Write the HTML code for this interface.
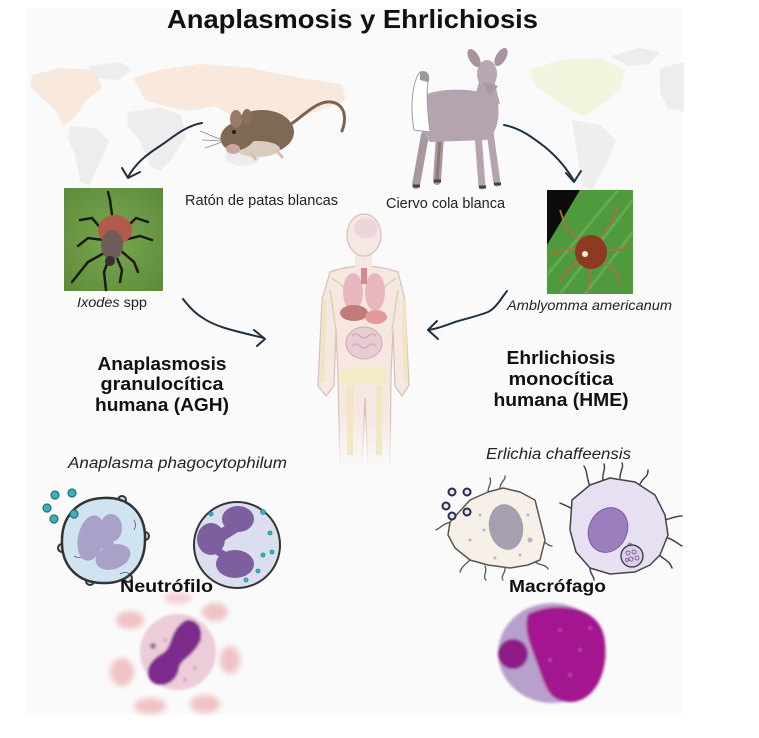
<!DOCTYPE html>
<html><head><meta charset="utf-8"><style>
html,body{margin:0;padding:0;background:#fff;}
svg{display:block;}
text{font-family:"Liberation Sans",Arial,sans-serif;}
</style></head><body>
<svg width="759" height="738" viewBox="0 0 759 738" xmlns="http://www.w3.org/2000/svg">
<defs>
<filter id="b1" x="-20%" y="-20%" width="140%" height="140%"><feGaussianBlur stdDeviation="1.2"/></filter>
<filter id="b3" x="-30%" y="-30%" width="160%" height="160%"><feGaussianBlur stdDeviation="3"/></filter>
<linearGradient id="bodyfade" x1="0" y1="0" x2="0" y2="1" gradientUnits="userSpaceOnUse" gradientTransform="translate(0,210) scale(1,260)">
<stop offset="0" stop-color="#f6e7e1" stop-opacity="1"/>
<stop offset="0.78" stop-color="#f6e7e1" stop-opacity="1"/>
<stop offset="1" stop-color="#f6e7e1" stop-opacity="0"/>
</linearGradient>
<linearGradient id="strokefade" x1="0" y1="0" x2="0" y2="1" gradientUnits="userSpaceOnUse" gradientTransform="translate(0,210) scale(1,260)">
<stop offset="0" stop-color="#d8bfb7" stop-opacity="1"/>
<stop offset="0.78" stop-color="#d8bfb7" stop-opacity="1"/>
<stop offset="1" stop-color="#d8bfb7" stop-opacity="0"/>
</linearGradient>
<radialGradient id="leaf1" cx="0.5" cy="0.5" r="0.7">
<stop offset="0" stop-color="#7aa84e"/><stop offset="1" stop-color="#5c8a3a"/>
</radialGradient>
</defs>

<!-- background panel -->
<rect x="26" y="8" width="655" height="707" fill="#fafafa"/>

<!-- left world map -->
<g opacity="0.6">
<path d="M32,75 L60,68 L95,70 L102,88 L86,100 L76,116 L63,126 L55,110 L40,96 L30,86 Z" fill="#f9ddc9"/>
<path d="M88,66 L120,62 L132,70 L118,80 L98,78 Z" fill="#e6e6e6"/>
<path d="M70,126 L96,128 L109,141 L101,160 L89,186 L80,181 L75,156 L68,137 Z" fill="#e6e6e6"/>
<path d="M133,78 L160,70 L200,64 L250,68 L300,78 L342,84 L346,100 L322,110 L300,116 L280,122 L260,126 L240,120 L215,106 L190,111 L165,106 L145,100 Z" fill="#f9ddc9"/>
<path d="M128,112 L160,107 L181,115 L186,136 L171,160 L160,171 L150,166 L140,141 L127,125 Z" fill="#e6e6e6"/>
<ellipse cx="243" cy="156" rx="18" ry="10" fill="#e6e6e6"/>
</g>

<!-- right world map -->
<g opacity="0.6">
<path d="M530,70 L560,60 L600,58 L625,70 L620,90 L600,106 L585,116 L570,110 L550,96 L535,86 Z" fill="#ebf3cc"/>
<path d="M610,56 L640,48 L660,52 L650,64 L628,66 Z" fill="#e6e6e6"/>
<path d="M572,120 L600,125 L616,140 L606,165 L592,190 L582,186 L577,152 Z" fill="#e6e6e6"/>
<path d="M660,68 L684,62 L684,112 L668,108 L660,92 Z" fill="#e6e6e6"/>
</g>

<!-- title -->
<text x="167" y="28" font-size="26" font-weight="bold" fill="#111" textLength="371" lengthAdjust="spacingAndGlyphs">Anaplasmosis y Ehrlichiosis</text>

<!-- mouse -->
<g>
<path d="M285,128 C302,118 316,100 331,102 C345,104 347,118 342,131" stroke="#7a6450" stroke-width="3" fill="none" stroke-linecap="round"/>
<ellipse cx="262" cy="132" rx="32" ry="22" fill="#7f6954"/>
<ellipse cx="258" cy="149" rx="22" ry="8" fill="#d9cdbd"/>
<ellipse cx="238" cy="136" rx="18" ry="14" transform="rotate(-20 238 136)" fill="#7f6954"/>
<ellipse cx="236" cy="119" rx="6" ry="9" fill="#9a7b6a"/>
<ellipse cx="247" cy="117" rx="5" ry="8" fill="#8a6e5e"/>
<circle cx="234" cy="132" r="2" fill="#222"/>
<ellipse cx="233" cy="149" rx="7" ry="5" fill="#c9a8a0"/>
<path d="M250,152 L256,160 M276,150 L283,158" stroke="#d8c0b8" stroke-width="3"/>
<path d="M222,140 L200,131 M222,141 L202,140 M222,142 L205,148" stroke="#888" stroke-width="0.8"/>
</g>

<!-- deer -->
<g>
<path d="M425,135 L416,185 M440,136 L437,181" stroke="#a8989f" stroke-width="8" stroke-linecap="round"/>
<path d="M440,138 L437,180" stroke="#8a7a70" stroke-width="3"/>
<path d="M478,134 L482,186 M490,132 L497,183" stroke="#b3a4b0" stroke-width="7" stroke-linecap="round"/>
<path d="M425,95 C440,88 470,88 488,94 L498,102 C500,120 496,135 486,140 L430,142 C420,132 417,110 425,95 Z" fill="#b3a4b0"/>
<path d="M474,100 L480,78 L494,80 L500,104 Z" fill="#b3a4b0"/>
<path d="M414,130 C410,108 412,82 420,72 C428,70 430,76 428,82 C426,96 428,115 430,132 Z" fill="#ffffff" stroke="#a09aa0" stroke-width="1"/>
<path d="M420,72 C428,70 430,76 428,82 L420,80 Z" fill="#9a9a9a"/>
<ellipse cx="487" cy="74" rx="10" ry="14" fill="#b8a8b4"/>
<path d="M482,82 L490,96 L498,86 Z" fill="#a8989f"/>
<ellipse cx="474" cy="58" rx="5" ry="10" transform="rotate(-30 474 58)" fill="#a8939f"/>
<ellipse cx="501" cy="57" rx="5" ry="10" transform="rotate(30 501 57)" fill="#a8939f"/>
<path d="M413,186 L420,186 M434,181 L441,181 M479,187 L486,187 M494,184 L501,184" stroke="#444" stroke-width="3"/>
</g>

<text x="185" y="205" font-size="14.5" fill="#222" textLength="153" lengthAdjust="spacingAndGlyphs">Ratón de patas blancas</text>
<text x="386" y="208" font-size="14.5" fill="#222" textLength="119" lengthAdjust="spacingAndGlyphs">Ciervo cola blanca</text>

<!-- arrows -->
<g stroke="#1f3040" stroke-width="2" fill="none" stroke-linecap="round" stroke-linejoin="round">
<path d="M202,123 C185,126 172,138 160,146 C146,155 136,163 128,177"/>
<path d="M122,168 L128,178 L140,172"/>
<path d="M504,125 C520,128 532,137 545,147 C557,157 566,167 574,181"/>
<path d="M566,173 L574,182 L581,171"/>
<path d="M183,299 C190,308 196,314 203,318 C214,326 230,330 264,338"/>
<path d="M254,330 L265,339 L257,346"/>
<path d="M507,291 C500,300 496,308 488,312 C478,316 468,318 455,322 C444,326 436,329 428,330"/>
<path d="M437,321 L428,330 L438,339"/>
</g>

<!-- Ixodes photo -->
<rect x="64" y="188" width="99" height="103" fill="url(#leaf1)"/>
<g stroke="#1a1a1a" stroke-width="2.5" fill="none" stroke-linecap="round">
<path d="M104,232 L92,218 L80,220"/>
<path d="M104,240 L88,238 L78,246"/>
<path d="M106,252 L88,262 L72,282"/>
<path d="M110,256 L104,272 L106,290"/>
<path d="M122,232 L136,218 L148,222"/>
<path d="M124,240 L140,236 L152,240"/>
<path d="M120,250 L134,262 L138,272"/>
<path d="M116,256 L122,270 L120,282"/>
<path d="M112,215 L110,200 L108,192"/>
</g>
<ellipse cx="115" cy="230" rx="17" ry="15" fill="#b35a4c"/>
<ellipse cx="112" cy="245" rx="11" ry="15" fill="#6e5c58"/>
<ellipse cx="110" cy="261" rx="5" ry="5" fill="#3a2e2c"/>
<text x="77" y="307" font-size="14" fill="#222" textLength="70" lengthAdjust="spacingAndGlyphs"><tspan font-style="italic">Ixodes</tspan> spp</text>

<!-- Amblyomma photo -->
<rect x="547" y="190" width="86" height="104" fill="#4f9a3c"/>
<path d="M547,190 L580,190 L547,245 Z" fill="#0c0c0c"/>
<path d="M560,294 L633,200 M585,294 L633,232 M547,275 L618,190" stroke="#6cb85a" stroke-width="3" opacity="0.6"/>
<g stroke="#b0703e" stroke-width="1.8" fill="none">
<path d="M580,240 L566,228 L560,210 M600,238 L612,222 L618,205 M604,250 L620,250 L628,244 M602,260 L616,272 L620,285 M580,260 L568,270 L560,282 M590,264 L590,282 L586,292 M578,248 L562,250 L550,256"/>
</g>
<ellipse cx="591" cy="252" rx="16" ry="17" fill="#8e3a22"/>
<circle cx="585" cy="254" r="3" fill="#f2efe0"/>
<text x="507" y="310" font-size="14" font-style="italic" fill="#222" textLength="165" lengthAdjust="spacingAndGlyphs">Amblyomma americanum</text>

<!-- human body -->
<g>
<path d="M330,272 Q363,260 398,272 L405,300 L409,385 L402,396 L395,386 L393,330 L391,375 L390,470 L368,470 L365,398 L362,470 L340,470 L338,375 L336,330 L334,386 L326,396 L318,386 L322,300 Z" fill="url(#bodyfade)" stroke="url(#strokefade)" stroke-width="1.2"/>
<rect x="355" y="250" width="17" height="20" fill="#f6e7e1"/>
<ellipse cx="364" cy="235" rx="17" ry="21" fill="#f6e7e1" stroke="#d8bfb7" stroke-width="1.2"/>
<ellipse cx="366" cy="228" rx="12" ry="10" fill="#ecd6da"/>
<path d="M340,372 Q364,362 388,372 L386,384 L342,384 Z" fill="#f3ebc6"/>
<path d="M350,386 L350,455 M379,386 L379,455" stroke="#f1e8c0" stroke-width="6" opacity="0.9"/>
<path d="M325,300 L322,382 M404,300 L406,382" stroke="#eee6c2" stroke-width="4"/>
<path d="M332,278 L348,290 M396,278 L380,290 M330,290 L336,330 M398,290 L392,330" stroke="#c8d6a2" stroke-width="1.2"/>
<ellipse cx="353" cy="292" rx="10" ry="19" fill="#e8b6be"/>
<ellipse cx="375" cy="292" rx="10" ry="19" fill="#e8b6be"/>
<rect x="361" y="268" width="6" height="16" fill="#d88890"/>
<ellipse cx="354" cy="313" rx="14" ry="8" fill="#c27a7a"/>
<ellipse cx="376" cy="317" rx="11" ry="7" fill="#e59a9a"/>
<ellipse cx="364" cy="343" rx="18" ry="16" fill="#e7ccd3" stroke="#cfa6ae" stroke-width="1"/>
<path d="M352,336 q4,-4 8,0 q4,4 8,0 q4,-4 8,0 M352,346 q4,-4 8,0 q4,4 8,0 q4,-4 8,0" stroke="#cfa0aa" stroke-width="1" fill="none"/>
</g>

<!-- left labels -->
<text x="162" y="370" font-size="18" font-weight="bold" fill="#111" text-anchor="middle" textLength="129" lengthAdjust="spacingAndGlyphs">Anaplasmosis</text>
<text x="162" y="390" font-size="18" font-weight="bold" fill="#111" text-anchor="middle" textLength="123" lengthAdjust="spacingAndGlyphs">granulocítica</text>
<text x="162" y="411" font-size="18" font-weight="bold" fill="#111" text-anchor="middle" textLength="134" lengthAdjust="spacingAndGlyphs">humana (AGH)</text>

<!-- right labels -->
<text x="561" y="364" font-size="18" font-weight="bold" fill="#111" text-anchor="middle" textLength="109" lengthAdjust="spacingAndGlyphs">Ehrlichiosis</text>
<text x="561" y="385" font-size="18" font-weight="bold" fill="#111" text-anchor="middle" textLength="105" lengthAdjust="spacingAndGlyphs">monocítica</text>
<text x="561" y="406" font-size="18" font-weight="bold" fill="#111" text-anchor="middle" textLength="135" lengthAdjust="spacingAndGlyphs">humana (HME)</text>

<text x="68" y="468" font-size="15.5" font-style="italic" fill="#222" textLength="219" lengthAdjust="spacingAndGlyphs">Anaplasma phagocytophilum</text>
<text x="486" y="459" font-size="15.5" font-style="italic" fill="#222" textLength="145" lengthAdjust="spacingAndGlyphs">Erlichia chaffeensis</text>

<!-- left cell 1 -->
<g>
<circle cx="62" cy="548" r="4" fill="#cfe4f0" stroke="#333" stroke-width="2"/>
<circle cx="145" cy="536" r="4" fill="#cfe4f0" stroke="#333" stroke-width="2"/>
<circle cx="122" cy="500" r="4" fill="#cfe4f0" stroke="#333" stroke-width="2"/>
<circle cx="90" cy="581" r="4" fill="#cfe4f0" stroke="#333" stroke-width="2"/>
<circle cx="128" cy="578" r="4" fill="#cfe4f0" stroke="#333" stroke-width="2"/>
<path d="M103,498 C130,496 146,515 145,540 C145,566 128,584 103,583 C78,583 61,566 62,540 C62,516 78,499 103,498 Z" fill="#cfe4f0" stroke="#333" stroke-width="2.5"/>
<path d="M74,556 q5,3 10,0 M120,574 q5,-3 10,0 M134,520 q3,5 0,10" stroke="#556" stroke-width="0.8" fill="none"/>
<ellipse cx="91" cy="538" rx="13" ry="23" transform="rotate(12 91 538)" fill="#a8a2c8"/>
<ellipse cx="111" cy="528" rx="11" ry="14" fill="#a8a2c8"/>
<ellipse cx="113" cy="557" rx="18" ry="12" transform="rotate(-20 113 557)" fill="#a8a2c8"/>
<path d="M98,550 L114,545 L112,536 L104,538 Z" fill="#a8a2c8"/>
</g>
<g fill="#3fb0bb" stroke="#1f6f78" stroke-width="1.2">
<circle cx="55" cy="495" r="4"/><circle cx="72" cy="493" r="4"/><circle cx="47" cy="508" r="4"/><circle cx="54" cy="519" r="4"/><circle cx="74" cy="514" r="4"/>
</g>

<!-- left cell 2 -->
<circle cx="237" cy="545" r="43" fill="#dadeef" stroke="#333" stroke-width="2"/>
<g fill="#7d5fa0">
<ellipse cx="238" cy="519" rx="16" ry="13"/>
<ellipse cx="211" cy="539" rx="14" ry="16"/>
<ellipse cx="235" cy="564" rx="19" ry="14"/>
<path d="M218,530 L232,522 L238,532 L222,542 Z"/>
<path d="M216,546 L228,553 L224,560 L212,552 Z"/>
</g>
<g fill="#3fb0bb" stroke="#1f8f98" stroke-width="0.8">
<circle cx="263" cy="512" r="2.5"/><circle cx="270" cy="533" r="2"/><circle cx="258" cy="571" r="2"/><circle cx="263" cy="555" r="2"/><circle cx="272" cy="552" r="2"/><circle cx="246" cy="580" r="2"/><circle cx="211" cy="514" r="2"/>
</g>

<!-- left photo -->
<g filter="url(#b3)">
<ellipse cx="130" cy="620" rx="14" ry="9" fill="#f0c2c6"/>
<ellipse cx="215" cy="612" rx="13" ry="9" fill="#f0c2c6"/>
<ellipse cx="122" cy="672" rx="12" ry="14" fill="#f0c2c6"/>
<ellipse cx="230" cy="660" rx="10" ry="14" fill="#f0c2c6"/>
<ellipse cx="150" cy="706" rx="16" ry="8" fill="#f0c2c6"/>
<ellipse cx="205" cy="704" rx="15" ry="9" fill="#f0c2c6"/>
<ellipse cx="178" cy="598" rx="14" ry="6" fill="#f4d0d4"/>
</g>
<g filter="url(#b1)">
<circle cx="178" cy="652" r="38" fill="#ecccd9"/>
<circle cx="165" cy="640" r="1.5" fill="#c58aa8"/><circle cx="195" cy="668" r="1.5" fill="#c58aa8"/><circle cx="160" cy="675" r="1.5" fill="#c58aa8"/><circle cx="200" cy="640" r="1.5" fill="#c58aa8"/><circle cx="185" cy="680" r="1.5" fill="#c58aa8"/>
<circle cx="153" cy="646" r="3" fill="#9a6a9a"/>
<path d="M186,620 C201,618 206,636 196,648 C189,658 181,660 179,668 C177,683 161,690 151,681 C143,671 151,659 163,653 C173,647 169,630 186,620 Z" fill="#7c2a8c"/>
</g>
<text x="120" y="592" font-size="17.5" font-weight="bold" fill="#111" textLength="93" lengthAdjust="spacingAndGlyphs">Neutrófilo</text>

<!-- right cell 1 (beige macrophage) -->
<g fill="none" stroke="#555" stroke-width="1.3" stroke-linecap="round">
<path d="M452,522 C444,523 440,528 436,530"/>
<path d="M470,560 C466,564 462,566 460,572"/>
<path d="M485,566 C488,572 482,576 486,580"/>
<path d="M505,567 C506,573 500,576 503,580"/>
<path d="M535,562 C540,566 546,564 548,569"/>
<path d="M488,492 C488,486 492,484 490,478"/>
<path d="M500,488 C500,482 506,480 505,476"/>
<path d="M540,540 C546,542 548,546 552,546"/>
</g>
<path d="M450,522 L470,500 L488,492 L503,488 L520,492 L535,500 L540,520 L545,540 L540,560 L528,565 L510,568 L488,565 L470,560 L455,548 L448,535 Z" fill="#f6f0e8" stroke="#555" stroke-width="1.5" stroke-linejoin="round"/>
<ellipse cx="506" cy="527" rx="17" ry="23" transform="rotate(-10 506 527)" fill="#a59fb0"/>
<g fill="#b8b0c4"><circle cx="480" cy="515" r="1.5"/><circle cx="484" cy="530" r="1.5"/><circle cx="520" cy="555" r="1.5"/><circle cx="530" cy="540" r="2.5"/><circle cx="528" cy="515" r="1.5"/><circle cx="495" cy="558" r="1.5"/><circle cx="470" cy="540" r="1.5"/></g>
<g fill="#e8e4ee" stroke="#2a2d4a" stroke-width="2">
<circle cx="452" cy="492" r="3.5"/><circle cx="467" cy="492" r="3.5"/><circle cx="446" cy="506" r="3.5"/><circle cx="452" cy="516" r="3.5"/><circle cx="467" cy="512" r="3.5"/>
</g>

<!-- right cell 2 (lavender) -->
<g fill="none" stroke="#444" stroke-width="1.5" stroke-linecap="round">
<path d="M590,486 C586,478 588,472 584,466"/>
<path d="M603,480 C602,472 606,470 604,464"/>
<path d="M620,478 C620,470 624,468 622,463"/>
<path d="M640,484 C644,476 648,478 648,470"/>
<path d="M665,520 C672,518 676,516 682,516"/>
<path d="M668,538 C674,540 678,544 682,546"/>
<path d="M660,556 C666,560 670,562 672,568"/>
<path d="M574,510 C568,506 564,505 560,503"/>
<path d="M590,568 C590,574 594,576 594,580"/>
</g>
<path d="M572,500 L590,485 L610,478 L635,482 L655,495 L665,515 L668,535 L660,555 L650,565 L635,572 L610,574 L590,568 L576,552 L570,530 Z" fill="#e6e0f2" stroke="#444" stroke-width="1.5" stroke-linejoin="round"/>
<ellipse cx="608" cy="530" rx="19" ry="23" transform="rotate(25 608 530)" fill="#9c7dbd" stroke="#7a5a9a" stroke-width="1"/>
<circle cx="630" cy="545" r="2.5" fill="#9a90b8"/>
<circle cx="632" cy="556" r="11" fill="#dccde8" stroke="#333" stroke-width="1.3"/>
<g fill="none" stroke="#6a4a8a" stroke-width="0.8"><circle cx="628" cy="553" r="2"/><circle cx="634" cy="552" r="2"/><circle cx="631" cy="559" r="2"/><circle cx="637" cy="558" r="2"/><circle cx="627" cy="560" r="1.5"/></g>

<text x="509" y="592" font-size="17.5" font-weight="bold" fill="#111" textLength="97" lengthAdjust="spacingAndGlyphs">Macrófago</text>

<!-- right photo -->
<g filter="url(#b1)">
<ellipse cx="552" cy="653" rx="54" ry="50" fill="#b7a0cc"/>
<path d="M528,614 C556,600 598,606 604,636 C610,666 598,700 572,702 C550,703 546,688 540,672 C534,652 522,632 528,614 Z" fill="#a3198f"/>
<circle cx="513" cy="654" r="15" fill="#8d1b87"/>
<g fill="#d86ac8"><circle cx="560" cy="630" r="1.2"/><circle cx="580" cy="650" r="1.2"/><circle cx="570" cy="675" r="1.2"/><circle cx="590" cy="628" r="1.2"/><circle cx="550" cy="660" r="1.2"/></g>
</g>
</svg>
</body></html>
